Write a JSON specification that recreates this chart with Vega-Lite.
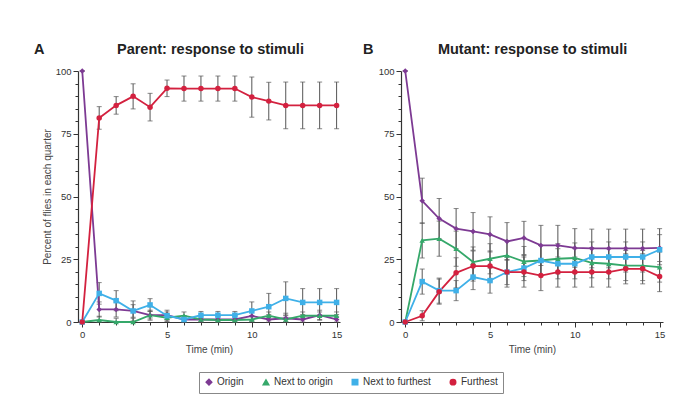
{
  "$schema": "https://vega.github.io/schema/vega-lite/v6.json",
  "background": "white",
  "padding": {"left": 34, "top": 41, "right": 5, "bottom": 5},
  "config": {
    "font": "Liberation Sans",
    "view": {"stroke": null},
    "axis": {"grid": false, "domainColor": "#333", "tickColor": "#333", "labelColor": "#333", "labelFontSize": 9.5, "titleFontSize": 10, "titleFontWeight": "normal", "titleColor": "#444", "domainWidth": 1.2, "tickWidth": 1},
    "title": {"fontSize": 14.5, "fontWeight": "bold", "color": "#222", "anchor": "start", "frame": "group", "offset": 9},
    "legend": {"title": null, "orient": "none", "legendX": 121, "legendY": 301, "direction": "horizontal", "strokeColor": "#888", "padding": 5, "labelFontSize": 10, "labelColor": "#333", "symbolSize": 30, "columnPadding": 16, "labelOffset": 3}
  },
  "datasets": {
    "d": [
      {"p":"A","s":"Origin","t":0,"v":100,"lo":100,"hi":100},
      {"p":"A","s":"Origin","t":1,"v":5,"lo":2,"hi":8},
      {"p":"A","s":"Origin","t":2,"v":5,"lo":2,"hi":8},
      {"p":"A","s":"Origin","t":3,"v":4.4,"lo":1.9,"hi":6.9},
      {"p":"A","s":"Origin","t":4,"v":2.7,"lo":0.7,"hi":4.7},
      {"p":"A","s":"Origin","t":5,"v":2.7,"lo":0.7,"hi":4.7},
      {"p":"A","s":"Origin","t":6,"v":1,"lo":0,"hi":2.5},
      {"p":"A","s":"Origin","t":7,"v":1,"lo":0,"hi":2.5},
      {"p":"A","s":"Origin","t":8,"v":1,"lo":0,"hi":2.5},
      {"p":"A","s":"Origin","t":9,"v":1,"lo":0,"hi":2.5},
      {"p":"A","s":"Origin","t":10,"v":2.4,"lo":0.4,"hi":4.4},
      {"p":"A","s":"Origin","t":11,"v":1,"lo":0,"hi":3},
      {"p":"A","s":"Origin","t":12,"v":1.5,"lo":0,"hi":3.5},
      {"p":"A","s":"Origin","t":13,"v":1,"lo":0,"hi":3},
      {"p":"A","s":"Origin","t":14,"v":2.7,"lo":0.7,"hi":4.7},
      {"p":"A","s":"Origin","t":15,"v":1,"lo":0,"hi":3},
      {"p":"A","s":"Next to origin","t":0,"v":0,"lo":0,"hi":0},
      {"p":"A","s":"Next to origin","t":1,"v":0.8,"lo":0,"hi":2.3},
      {"p":"A","s":"Next to origin","t":2,"v":0,"lo":0,"hi":1.5},
      {"p":"A","s":"Next to origin","t":3,"v":0,"lo":0,"hi":1.5},
      {"p":"A","s":"Next to origin","t":4,"v":2.7,"lo":1.2,"hi":4.2},
      {"p":"A","s":"Next to origin","t":5,"v":1.7,"lo":0.2,"hi":3.2},
      {"p":"A","s":"Next to origin","t":6,"v":2.5,"lo":1,"hi":4},
      {"p":"A","s":"Next to origin","t":7,"v":1,"lo":0,"hi":2.5},
      {"p":"A","s":"Next to origin","t":8,"v":0.8,"lo":0,"hi":2.3},
      {"p":"A","s":"Next to origin","t":9,"v":0.8,"lo":0,"hi":2.3},
      {"p":"A","s":"Next to origin","t":10,"v":1,"lo":0,"hi":2.5},
      {"p":"A","s":"Next to origin","t":11,"v":2.5,"lo":1,"hi":4},
      {"p":"A","s":"Next to origin","t":12,"v":1,"lo":0,"hi":2.5},
      {"p":"A","s":"Next to origin","t":13,"v":2.5,"lo":1,"hi":4},
      {"p":"A","s":"Next to origin","t":14,"v":2.5,"lo":1,"hi":4},
      {"p":"A","s":"Next to origin","t":15,"v":2.5,"lo":1,"hi":4},
      {"p":"A","s":"Next to furthest","t":0,"v":0,"lo":0,"hi":0},
      {"p":"A","s":"Next to furthest","t":1,"v":11.4,"lo":7.1,"hi":15.7},
      {"p":"A","s":"Next to furthest","t":2,"v":8.5,"lo":4.5,"hi":12.5},
      {"p":"A","s":"Next to furthest","t":3,"v":4.4,"lo":0.4,"hi":8.4},
      {"p":"A","s":"Next to furthest","t":4,"v":6.8,"lo":4.3,"hi":9.3},
      {"p":"A","s":"Next to furthest","t":5,"v":2.5,"lo":1,"hi":4},
      {"p":"A","s":"Next to furthest","t":6,"v":1,"lo":0,"hi":2.5},
      {"p":"A","s":"Next to furthest","t":7,"v":2.7,"lo":1.2,"hi":4.2},
      {"p":"A","s":"Next to furthest","t":8,"v":2.7,"lo":1.2,"hi":4.2},
      {"p":"A","s":"Next to furthest","t":9,"v":2.7,"lo":1.2,"hi":4.2},
      {"p":"A","s":"Next to furthest","t":10,"v":4.4,"lo":0.8,"hi":8},
      {"p":"A","s":"Next to furthest","t":11,"v":6.1,"lo":0.8,"hi":11.4},
      {"p":"A","s":"Next to furthest","t":12,"v":9.4,"lo":2.8,"hi":16},
      {"p":"A","s":"Next to furthest","t":13,"v":7.8,"lo":2.3,"hi":13.3},
      {"p":"A","s":"Next to furthest","t":14,"v":7.8,"lo":2.3,"hi":13.3},
      {"p":"A","s":"Next to furthest","t":15,"v":7.8,"lo":2.3,"hi":13.3},
      {"p":"A","s":"Furthest","t":0,"v":0,"lo":0,"hi":0},
      {"p":"A","s":"Furthest","t":1,"v":81.3,"lo":76.8,"hi":85.8},
      {"p":"A","s":"Furthest","t":2,"v":86.3,"lo":82.8,"hi":89.8},
      {"p":"A","s":"Furthest","t":3,"v":89.9,"lo":84.9,"hi":94.9},
      {"p":"A","s":"Furthest","t":4,"v":85.6,"lo":80.1,"hi":91.1},
      {"p":"A","s":"Furthest","t":5,"v":93.1,"lo":89.8,"hi":96.4},
      {"p":"A","s":"Furthest","t":6,"v":93,"lo":88,"hi":98},
      {"p":"A","s":"Furthest","t":7,"v":93,"lo":88,"hi":98},
      {"p":"A","s":"Furthest","t":8,"v":93,"lo":88,"hi":98},
      {"p":"A","s":"Furthest","t":9,"v":93,"lo":88,"hi":98},
      {"p":"A","s":"Furthest","t":10,"v":89.6,"lo":81.6,"hi":97.6},
      {"p":"A","s":"Furthest","t":11,"v":88,"lo":80.5,"hi":95.5},
      {"p":"A","s":"Furthest","t":12,"v":86.3,"lo":77,"hi":95.6},
      {"p":"A","s":"Furthest","t":13,"v":86.3,"lo":77,"hi":95.6},
      {"p":"A","s":"Furthest","t":14,"v":86.3,"lo":77,"hi":95.6},
      {"p":"A","s":"Furthest","t":15,"v":86.3,"lo":77,"hi":95.6},
      {"p":"B","s":"Origin","t":0,"v":100,"lo":100,"hi":100},
      {"p":"B","s":"Origin","t":1,"v":48.3,"lo":39.3,"hi":57.3},
      {"p":"B","s":"Origin","t":2,"v":41.2,"lo":33.2,"hi":49.2},
      {"p":"B","s":"Origin","t":3,"v":37.2,"lo":29.2,"hi":45.2},
      {"p":"B","s":"Origin","t":4,"v":36.1,"lo":28.6,"hi":43.6},
      {"p":"B","s":"Origin","t":5,"v":34.9,"lo":27.9,"hi":41.9},
      {"p":"B","s":"Origin","t":6,"v":32.1,"lo":24.6,"hi":39.6},
      {"p":"B","s":"Origin","t":7,"v":33.5,"lo":26.9,"hi":40.1},
      {"p":"B","s":"Origin","t":8,"v":30.5,"lo":22.5,"hi":38.5},
      {"p":"B","s":"Origin","t":9,"v":30.5,"lo":22.5,"hi":38.5},
      {"p":"B","s":"Origin","t":10,"v":29.5,"lo":21.8,"hi":37.2},
      {"p":"B","s":"Origin","t":11,"v":29.3,"lo":21.6,"hi":37},
      {"p":"B","s":"Origin","t":12,"v":29.3,"lo":21.6,"hi":37},
      {"p":"B","s":"Origin","t":13,"v":29.3,"lo":21.6,"hi":37},
      {"p":"B","s":"Origin","t":14,"v":29.3,"lo":21.6,"hi":37},
      {"p":"B","s":"Origin","t":15,"v":29.5,"lo":21.8,"hi":37.2},
      {"p":"B","s":"Next to origin","t":0,"v":0,"lo":0,"hi":0},
      {"p":"B","s":"Next to origin","t":1,"v":32.5,"lo":25.5,"hi":39.5},
      {"p":"B","s":"Next to origin","t":2,"v":33.2,"lo":26.2,"hi":40.2},
      {"p":"B","s":"Next to origin","t":3,"v":29.2,"lo":22.2,"hi":36.2},
      {"p":"B","s":"Next to origin","t":4,"v":23.9,"lo":17.9,"hi":29.9},
      {"p":"B","s":"Next to origin","t":5,"v":25.2,"lo":19.2,"hi":31.2},
      {"p":"B","s":"Next to origin","t":6,"v":26.5,"lo":20.5,"hi":32.5},
      {"p":"B","s":"Next to origin","t":7,"v":24.1,"lo":18.1,"hi":30.1},
      {"p":"B","s":"Next to origin","t":8,"v":24.5,"lo":18.5,"hi":30.5},
      {"p":"B","s":"Next to origin","t":9,"v":25.2,"lo":19.2,"hi":31.2},
      {"p":"B","s":"Next to origin","t":10,"v":25.5,"lo":19.5,"hi":31.5},
      {"p":"B","s":"Next to origin","t":11,"v":23.6,"lo":17.6,"hi":29.6},
      {"p":"B","s":"Next to origin","t":12,"v":23.2,"lo":17.2,"hi":29.2},
      {"p":"B","s":"Next to origin","t":13,"v":22.5,"lo":16.5,"hi":28.5},
      {"p":"B","s":"Next to origin","t":14,"v":22.5,"lo":16.5,"hi":28.5},
      {"p":"B","s":"Next to origin","t":15,"v":21.9,"lo":15.9,"hi":27.9},
      {"p":"B","s":"Next to furthest","t":0,"v":0,"lo":0,"hi":0},
      {"p":"B","s":"Next to furthest","t":1,"v":16.1,"lo":11.1,"hi":21.1},
      {"p":"B","s":"Next to furthest","t":2,"v":12.5,"lo":7.5,"hi":17.5},
      {"p":"B","s":"Next to furthest","t":3,"v":12.5,"lo":8.5,"hi":16.5},
      {"p":"B","s":"Next to furthest","t":4,"v":17.9,"lo":12.9,"hi":22.9},
      {"p":"B","s":"Next to furthest","t":5,"v":16.5,"lo":11.5,"hi":21.5},
      {"p":"B","s":"Next to furthest","t":6,"v":19.9,"lo":14.9,"hi":24.9},
      {"p":"B","s":"Next to furthest","t":7,"v":21.5,"lo":16.5,"hi":26.5},
      {"p":"B","s":"Next to furthest","t":8,"v":24.5,"lo":18.5,"hi":30.5},
      {"p":"B","s":"Next to furthest","t":9,"v":23.2,"lo":17.2,"hi":29.2},
      {"p":"B","s":"Next to furthest","t":10,"v":23.2,"lo":17.2,"hi":29.2},
      {"p":"B","s":"Next to furthest","t":11,"v":25.9,"lo":19.9,"hi":31.9},
      {"p":"B","s":"Next to furthest","t":12,"v":25.9,"lo":19.9,"hi":31.9},
      {"p":"B","s":"Next to furthest","t":13,"v":25.9,"lo":19.9,"hi":31.9},
      {"p":"B","s":"Next to furthest","t":14,"v":25.9,"lo":19.9,"hi":31.9},
      {"p":"B","s":"Next to furthest","t":15,"v":28.8,"lo":22.8,"hi":34.8},
      {"p":"B","s":"Furthest","t":0,"v":0,"lo":0,"hi":0},
      {"p":"B","s":"Furthest","t":1,"v":2.5,"lo":0.5,"hi":4.5},
      {"p":"B","s":"Furthest","t":2,"v":12.1,"lo":7.1,"hi":17.1},
      {"p":"B","s":"Furthest","t":3,"v":19.6,"lo":13.6,"hi":25.6},
      {"p":"B","s":"Furthest","t":4,"v":22.3,"lo":16.3,"hi":28.3},
      {"p":"B","s":"Furthest","t":5,"v":22.3,"lo":16.3,"hi":28.3},
      {"p":"B","s":"Furthest","t":6,"v":19.9,"lo":13.9,"hi":25.9},
      {"p":"B","s":"Furthest","t":7,"v":19.9,"lo":13.9,"hi":25.9},
      {"p":"B","s":"Furthest","t":8,"v":18.5,"lo":12.5,"hi":24.5},
      {"p":"B","s":"Furthest","t":9,"v":19.9,"lo":13.9,"hi":25.9},
      {"p":"B","s":"Furthest","t":10,"v":19.9,"lo":13.9,"hi":25.9},
      {"p":"B","s":"Furthest","t":11,"v":19.9,"lo":13.9,"hi":25.9},
      {"p":"B","s":"Furthest","t":12,"v":19.9,"lo":13.9,"hi":25.9},
      {"p":"B","s":"Furthest","t":13,"v":21.2,"lo":15.2,"hi":27.2},
      {"p":"B","s":"Furthest","t":14,"v":21.2,"lo":15.2,"hi":27.2},
      {"p":"B","s":"Furthest","t":15,"v":18.1,"lo":12.1,"hi":24.1}
    ]
  },
  "data": {"name": "d"},
  "spacing": 21,
  "hconcat": [
    {
      "width": 262,
      "height": 251,
      "title": {"text": "A\u00a0\u00a0\u00a0\u00a0\u00a0\u00a0\u00a0\u00a0\u00a0\u00a0\u00a0\u00a0\u00a0\u00a0\u00a0\u00a0\u00a0\u00a0Parent: response to stimuli", "dx": -44},
      "transform": [{"filter": "datum.p === 'A'"}],
      "encoding": {
        "x": {"field": "t", "type": "quantitative", "title": "Time (min)", "scale": {"domain": [-0.25, 15.2], "nice": false, "zero": false},
              "axis": {"values": [0,1,2,3,4,5,6,7,8,9,10,11,12,13,14,15], "labelExpr": "datum.value % 5 === 0 ? datum.label : ''", "tickSize": {"condition": {"test": "datum.value % 5 === 0", "value": 5}, "value": 3}, "labelPadding": 2, "titlePadding": 6}},
        "y": {"field": "v", "type": "quantitative", "title": "Percent of flies in each quarter", "scale": {"domain": [0, 100], "nice": false},
              "axis": {"values": [0,5,10,15,20,25,30,35,40,45,50,55,60,65,70,75,80,85,90,95,100], "labelExpr": "datum.value % 25 === 0 ? datum.label : ''", "tickSize": {"condition": {"test": "datum.value % 25 === 0", "value": 5}, "value": 3}, "labelPadding": 2, "titlePadding": 3}},
        "color": {"field": "s", "type": "nominal", "scale": {"domain": ["Origin", "Next to origin", "Next to furthest", "Furthest"], "range": ["#7d3a93", "#35a86a", "#3fb0e8", "#d3213f"]}}
      },
      "layer": [
        {"mark": {"type": "rule", "strokeWidth": 1},
         "encoding": {"y": {"field": "lo", "type": "quantitative", "title": "Percent of flies in each quarter"}, "y2": {"field": "hi"}, "color": {"value": "#555"}}},
        {"mark": {"type": "tick", "orient": "horizontal", "size": 5, "thickness": 1},
         "encoding": {"y": {"field": "lo", "type": "quantitative", "title": "Percent of flies in each quarter"}, "color": {"value": "#555"}}},
        {"mark": {"type": "tick", "orient": "horizontal", "size": 5, "thickness": 1},
         "encoding": {"y": {"field": "hi", "type": "quantitative", "title": "Percent of flies in each quarter"}, "color": {"value": "#555"}}},
        {"mark": {"type": "line", "strokeWidth": 1.8}},
        {"mark": {"type": "point", "filled": true, "size": 30, "opacity": 1},
         "encoding": {
           "shape": {"field": "s", "type": "nominal", "scale": {"domain": ["Origin", "Next to origin", "Next to furthest", "Furthest"], "range": ["diamond", "triangle-up", "square", "circle"]}}}}
      ]
    },
    {
      "width": 262,
      "height": 251,
      "title": {"text": "B\u00a0\u00a0\u00a0\u00a0\u00a0\u00a0\u00a0\u00a0\u00a0\u00a0\u00a0\u00a0\u00a0\u00a0\u00a0\u00a0Mutant: response to stimuli", "dx": -38},
      "transform": [{"filter": "datum.p === 'B'"}],
      "encoding": {
        "x": {"field": "t", "type": "quantitative", "title": "Time (min)", "scale": {"domain": [-0.25, 15.2], "nice": false, "zero": false},
              "axis": {"values": [0,1,2,3,4,5,6,7,8,9,10,11,12,13,14,15], "labelExpr": "datum.value % 5 === 0 ? datum.label : ''", "tickSize": {"condition": {"test": "datum.value % 5 === 0", "value": 5}, "value": 3}, "labelPadding": 2, "titlePadding": 6}},
        "y": {"field": "v", "type": "quantitative", "title": null, "scale": {"domain": [0, 100], "nice": false},
              "axis": {"values": [0,5,10,15,20,25,30,35,40,45,50,55,60,65,70,75,80,85,90,95,100], "labelExpr": "datum.value % 25 === 0 ? datum.label : ''", "tickSize": {"condition": {"test": "datum.value % 25 === 0", "value": 5}, "value": 3}, "labelPadding": 2}},
        "color": {"field": "s", "type": "nominal", "scale": {"domain": ["Origin", "Next to origin", "Next to furthest", "Furthest"], "range": ["#7d3a93", "#35a86a", "#3fb0e8", "#d3213f"]}}
      },
      "layer": [
        {"mark": {"type": "rule", "strokeWidth": 1},
         "encoding": {"y": {"field": "lo", "type": "quantitative", "title": null}, "y2": {"field": "hi"}, "color": {"value": "#555"}}},
        {"mark": {"type": "tick", "orient": "horizontal", "size": 5, "thickness": 1},
         "encoding": {"y": {"field": "lo", "type": "quantitative", "title": null}, "color": {"value": "#555"}}},
        {"mark": {"type": "tick", "orient": "horizontal", "size": 5, "thickness": 1},
         "encoding": {"y": {"field": "hi", "type": "quantitative", "title": null}, "color": {"value": "#555"}}},
        {"mark": {"type": "line", "strokeWidth": 1.8}},
        {"mark": {"type": "point", "filled": true, "size": 30, "opacity": 1},
         "encoding": {
           "shape": {"field": "s", "type": "nominal", "scale": {"domain": ["Origin", "Next to origin", "Next to furthest", "Furthest"], "range": ["diamond", "triangle-up", "square", "circle"]}}}}
      ]
    }
  ]
}
